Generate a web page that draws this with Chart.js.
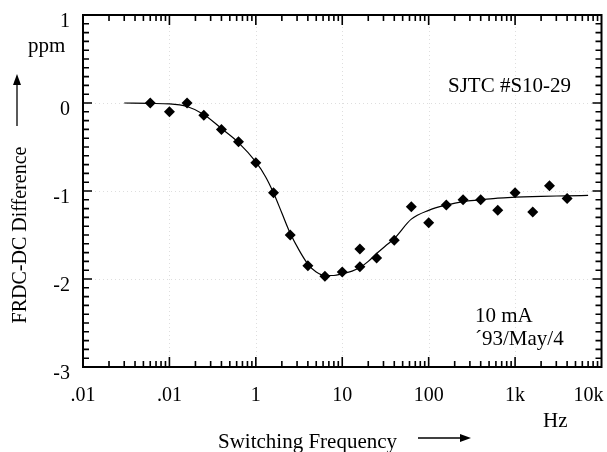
<!DOCTYPE html>
<html>
<head>
<meta charset="utf-8">
<script src="https://cdn.jsdelivr.net/npm/chart.js@4/dist/chart.umd.min.js"></script>
<style>
  html, body { margin: 0; padding: 0; background: #fff; }
  #wrap { width: 607px; height: 452px; position: relative; }
</style>
</head>
<body>
<div id="wrap"><canvas id="chart" width="607" height="452"></canvas></div>
<script>
// measured points (Hz, ppm)
var pointFreq = [0.06, 0.1, 0.16, 0.25, 0.4, 0.63, 1, 1.6, 2.5, 4, 6.3, 10, 16, 16, 25, 40, 63, 100, 160, 250, 400, 630, 1000, 1600, 2500, 4000];
var pointDiff = [0.0, -0.10, 0.0, -0.14, -0.30, -0.44, -0.68, -1.02, -1.50, -1.85, -1.97, -1.92, -1.66, -1.86, -1.76, -1.56, -1.18, -1.36, -1.16, -1.10, -1.10, -1.22, -1.02, -1.24, -0.94, -1.085];

// fitted curve
var curveFreq = [0.03, 0.06, 0.1, 0.16, 0.25, 0.4, 0.63, 1, 1.3, 1.6, 2, 2.5, 3.2, 4, 5, 6.3, 8, 10, 13, 16, 20, 25, 32, 40, 63, 100, 160, 250, 400, 630, 1000, 2000, 4000, 7000];
var curveDiff = [0, -0.005, -0.01, -0.04, -0.13, -0.29, -0.45, -0.67, -0.84, -1.02, -1.25, -1.48, -1.68, -1.83, -1.92, -1.96, -1.96, -1.94, -1.91, -1.87, -1.80, -1.71, -1.62, -1.54, -1.32, -1.22, -1.16, -1.12, -1.10, -1.08, -1.07, -1.06, -1.055, -1.05];

var xTickValues = [0.01, 0.1, 1, 10, 100, 1000, 10000];
var xTickLabels = ['.01', '.01', '1', '10', '100', '1k', '10k'];
var yTickValues = [1, 0, -1, -2, -3];
var yTickLabels = ['1', '0', '-1', '-2', '-3'];

var SERIF = '"Liberation Serif", "Times New Roman", serif';

function toXY(xs, ys) {
  return xs.map(function(x, i) { return { x: x, y: ys[i] }; });
}

function arrow(ctx, x1, y1, x2, y2) {
  var a = Math.atan2(y2 - y1, x2 - x1);
  ctx.beginPath();
  ctx.moveTo(x1, y1);
  ctx.lineTo(x2 - Math.cos(a) * 8, y2 - Math.sin(a) * 8);
  ctx.lineWidth = 1.3;
  ctx.stroke();
  ctx.beginPath();
  ctx.moveTo(x2, y2);
  ctx.lineTo(x2 - Math.cos(a) * 11 - Math.sin(a) * 4, y2 - Math.sin(a) * 11 + Math.cos(a) * 4);
  ctx.lineTo(x2 - Math.cos(a) * 11 + Math.sin(a) * 4, y2 - Math.sin(a) * 11 - Math.cos(a) * 4);
  ctx.closePath();
  ctx.fill();
}

// frame, inner ticks, dotted grid, tick labels and annotations
var framePlugin = {
  id: 'frame',
  beforeDatasetsDraw: function(chart) {
    var ctx = chart.ctx, a = chart.chartArea;
    var xs = chart.scales.x, ys = chart.scales.y;
    ctx.save();
    ctx.strokeStyle = 'rgba(0,0,0,0.13)';
    ctx.lineWidth = 1;
    ctx.setLineDash([1, 3]);
    xTickValues.slice(1, -1).forEach(function(v) {
      var px = Math.round(xs.getPixelForValue(v)) + 0.5;
      ctx.beginPath(); ctx.moveTo(px, a.top); ctx.lineTo(px, a.bottom); ctx.stroke();
    });
    yTickValues.slice(1, -1).forEach(function(v) {
      var py = Math.round(ys.getPixelForValue(v)) + 0.5;
      ctx.beginPath(); ctx.moveTo(a.left, py); ctx.lineTo(a.right, py); ctx.stroke();
    });
    ctx.restore();
  },
  afterDraw: function(chart) {
    var ctx = chart.ctx, a = chart.chartArea;
    var xs = chart.scales.x, ys = chart.scales.y;
    ctx.save();
    ctx.strokeStyle = '#000';
    ctx.fillStyle = '#000';
    ctx.lineWidth = 2;
    ctx.strokeRect(a.left, a.top, a.right - a.left, a.bottom - a.top);

    // x ticks, top and bottom
    ctx.lineWidth = 1.6;
    for (var d = 0; d < xTickValues.length - 1; d++) {
      for (var m = 1; m < 10; m++) {
        var v = xTickValues[d] * m;
        var px = xs.getPixelForValue(v);
        var len = m === 1 ? 10 : 6;
        ctx.beginPath();
        ctx.moveTo(px, a.bottom); ctx.lineTo(px, a.bottom - len);
        ctx.moveTo(px, a.top); ctx.lineTo(px, a.top + len);
        ctx.stroke();
      }
    }
    // y ticks, left and right
    for (var k = -30; k <= 10; k++) {
      var py = ys.getPixelForValue(k / 10);
      var ylen = k % 10 === 0 ? 9 : 6;
      ctx.beginPath();
      ctx.moveTo(a.left, py); ctx.lineTo(a.left + ylen, py);
      ctx.moveTo(a.right, py); ctx.lineTo(a.right - ylen, py);
      ctx.stroke();
    }

    // tick labels
    ctx.font = '20px ' + SERIF;
    ctx.textBaseline = 'alphabetic';
    xTickValues.forEach(function(v, i) {
      var px = xs.getPixelForValue(v);
      var last = i === xTickValues.length - 1;
      ctx.textAlign = last ? 'right' : 'center';
      ctx.fillText(xTickLabels[i], last ? px + 2 : px, 401);
    });
    ctx.textAlign = 'right';
    yTickValues.forEach(function(v, i) {
      ctx.fillText(yTickLabels[i], 70, ys.getPixelForValue(v) + 12);
    });

    // annotations
    ctx.textAlign = 'left';
    ctx.font = '21px ' + SERIF;
    ctx.fillText('SJTC #S10-29', 448, 92);
    ctx.fillText('10 mA', 475, 322);
    ctx.fillText('\u00b493/May/4', 475, 345);
    ctx.fillText('Hz', 543, 427);
    ctx.fillText('Switching Frequency', 218, 448);
    ctx.fillText('ppm', 28, 52);

    ctx.save();
    ctx.translate(26, 235);
    ctx.rotate(-Math.PI / 2);
    ctx.textAlign = 'center';
    ctx.font = '20px ' + SERIF;
    ctx.fillText('FRDC-DC Difference', 0, 0);
    ctx.restore();

    arrow(ctx, 418, 438, 471, 438);
    arrow(ctx, 17, 126, 17, 74);
    ctx.restore();
  }
};

new Chart(document.getElementById('chart'), {
  type: 'scatter',
  data: {
    datasets: [
      {
        type: 'line',
        label: 'fit',
        data: toXY(curveFreq, curveDiff),
        borderColor: '#000',
        borderWidth: 1.2,
        pointRadius: 0,
        fill: false,
        cubicInterpolationMode: 'monotone'
      },
      {
        label: 'measured',
        data: toXY(pointFreq, pointDiff),
        pointStyle: 'rectRot',
        pointRadius: 5.5,
        backgroundColor: '#000',
        borderColor: '#000',
        borderWidth: 0
      }
    ]
  },
  plugins: [framePlugin],
  options: {
    responsive: false,
    animation: false,
    layout: { padding: { top: 15, right: 5, left: 0, bottom: 0 } },
    plugins: { legend: { display: false }, tooltip: { enabled: false } },
    scales: {
      x: {
        type: 'logarithmic',
        min: 0.01,
        max: 10000,
        grid: { display: false },
        border: { display: false },
        ticks: { display: false },
        afterFit: function(scale) { scale.height = 85; }
      },
      y: {
        type: 'linear',
        min: -3,
        max: 1,
        grid: { display: false },
        border: { display: false },
        ticks: { display: false },
        afterFit: function(scale) { scale.width = 83; }
      }
    }
  }
});
</script>
</body>
</html>
